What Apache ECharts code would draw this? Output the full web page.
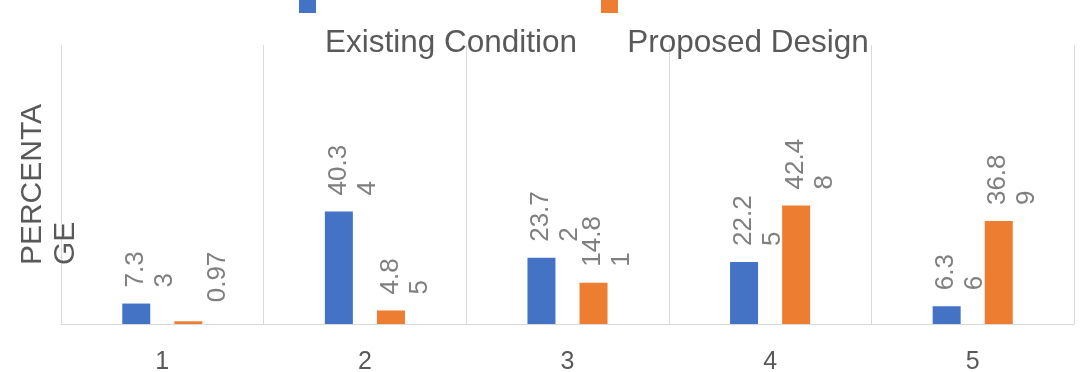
<!DOCTYPE html>
<html>
<head>
<meta charset="utf-8">
<script src="https://cdn.jsdelivr.net/npm/echarts@6/dist/echarts.min.js"></script>
<style>
  html, body { margin: 0; padding: 0; background: #ffffff; }
  #chart { width: 1082px; height: 372px; }
</style>
</head>
<body>
<div id="chart"></div>
<script>
// Scenario categories along the x axis
const categories = ['1', '2', '3', '4', '5'];

// Share of trips (%) per scenario
const existingCondition = [7.33, 40.34, 23.72, 22.25, 6.36];
const proposedDesign = [0.97, 4.85, 14.81, 42.48, 36.89];

const seriesNames = ['Existing Condition', 'Proposed Design'];
// Axis title, wrapped onto two lines that start flush
const yAxisTitleLines = ['PERCENTA', 'GE'];

const FONT = '"Liberation Sans", Arial, sans-serif';
const LABEL_LINE = 29;

// Value labels wrap before their final digit, as in narrow label boxes;
// labels of bars under 1% stay on one line and sit one line to the right.
function wrapValue(v) {
  const s = v.toFixed(2);
  return v < 1 ? s : s.slice(0, -1) + '\n' + s.slice(-1);
}

function barData(values) {
  return values.map(function (v) {
    if (v < 1) {
      // offset is in the label's rotated frame: +y moves it right on screen
      return { value: v, label: { offset: [0, LABEL_LINE], distance: 19 } };
    }
    return v;
  });
}

function makeSeries(name, values, color) {
  return {
    name: name,
    type: 'bar',
    data: barData(values),
    barWidth: 28,
    barGap: '86%',
    itemStyle: { color: color },
    label: {
      show: true,
      position: 'top',
      distance: 16,
      rotate: 90,
      align: 'left',
      verticalAlign: 'middle',
      offset: [0, 14],
      fontFamily: FONT,
      fontSize: 26,
      lineHeight: LABEL_LINE,
      color: '#7f7f7f',
      formatter: function (p) { return wrapValue(p.value); }
    }
  };
}

const chart = echarts.init(document.getElementById('chart'), null, { renderer: 'canvas' });

chart.setOption({
  animation: false,
  backgroundColor: '#ffffff',
  legend: [
    {
      // colour swatches
      data: seriesNames,
      top: 0,
      left: 299,
      padding: 0,
      itemWidth: 17,
      itemHeight: 13,
      itemGap: 280,
      icon: 'rect',
      formatter: function () { return ''; },
      textStyle: { fontSize: 1, lineHeight: 1 }
    },
    {
      // series names, set below the swatches
      data: seriesNames,
      top: 25,
      left: 320,
      padding: 0,
      itemWidth: 0,
      itemHeight: 0,
      itemGap: 45,
      icon: 'rect',
      itemStyle: { opacity: 0 },
      textStyle: {
        fontFamily: FONT,
        fontSize: 31.5,
        lineHeight: 36,
        color: '#595959'
      }
    }
  ],
  grid: { left: 61, right: 8, top: 45, bottom: 48, outerBoundsMode: 'none' },
  xAxis: {
    type: 'category',
    data: categories,
    axisLine: { show: true, lineStyle: { color: '#d9d9d9', width: 1 } },
    axisTick: { show: false },
    axisLabel: { fontFamily: FONT, fontSize: 25, color: '#595959', margin: 26 },
    splitLine: { show: true, lineStyle: { color: '#d9d9d9', width: 1 } }
  },
  yAxis: {
    type: 'value',
    min: 0,
    max: 100,
    name: yAxisTitleLines.map(function (t) { return '{t|' + t + '}'; }).join('\n'),
    nameLocation: 'middle',
    nameRotate: 90,
    nameGap: 12,
    nameTextStyle: {
      fontFamily: FONT,
      fontSize: 30,
      lineHeight: 33,
      color: '#595959',
      align: 'center',
      verticalAlign: 'middle',
      rich: {
        t: {
          fontFamily: FONT,
          fontSize: 30,
          lineHeight: 33,
          color: '#595959',
          align: 'left'
        }
      }
    },
    axisLine: { show: false },
    axisTick: { show: false },
    axisLabel: { show: false },
    splitLine: { show: false }
  },
  series: [
    makeSeries(seriesNames[0], existingCondition, '#4472c4'),
    makeSeries(seriesNames[1], proposedDesign, '#ed7d31')
  ]
});
</script>
</body>
</html>
